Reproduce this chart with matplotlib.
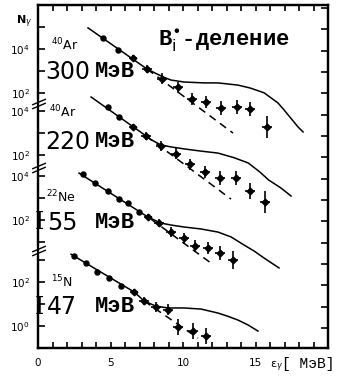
import numpy as np
import matplotlib.pyplot as plt

# stacked log axis: every panel is shifted by its own number of decades
off1, off2, off3, off4 = 9.6, 6.75, 3.8, 1.0

# 40Ar 300 MeV
e_dot1 = [4.48, 5.52]
n_dot1 = [4.49, 3.95]
e_cr1 = [6.55, 7.52, 8.55, 9.66, 10.62, 11.59, 12.62, 13.72, 14.62, 15.79]
n_cr1 = [3.58, 3.08, 2.63, 2.26, 1.72, 1.58, 1.31, 1.35, 1.26, 0.45]
dn_cr1 = [0.12, 0.2, 0.25, 0.25, 0.28, 0.28, 0.3, 0.3, 0.3, 0.5]
e_sol1 = [3.45, 7.52, 8.62, 9.17, 10.07, 11.45, 12.41, 13.79, 14.62, 15.59, 16.55, 16.97, 17.93, 18.28]
n_sol1 = [4.95, 3.08, 2.72, 2.58, 2.49, 2.45, 2.45, 2.35, 2.22, 2.0, 1.54, 1.22, 0.45, 0.22]
e_das1 = [7.52, 13.45]
n_das1 = [3.08, 0.17]

# 40Ar 220 MeV
e_dot2 = [4.83, 5.59]
n_dot2 = [4.20, 3.75]
e_cr2 = [6.55, 7.45, 8.48, 9.52, 10.48, 11.52, 12.55, 13.66, 14.62, 15.66]
n_cr2 = [3.30, 2.89, 2.43, 2.07, 1.61, 1.25, 0.98, 0.98, 0.39, -0.11]
dn_cr2 = [0.12, 0.2, 0.22, 0.25, 0.25, 0.28, 0.3, 0.3, 0.38, 0.5]
e_sol2 = [3.66, 7.45, 7.79, 8.48, 9.17, 10.07, 11.24, 12.41, 13.52, 14.5, 15.3, 15.9, 16.76, 17.45]
n_sol2 = [4.66, 2.89, 2.72, 2.48, 2.39, 2.30, 2.20, 2.11, 1.90, 1.66, 1.25, 0.89, 0.52, 0.16]
e_das2 = [7.45, 13.31]
n_das2 = [2.89, 0.02]

# 22Ne 155 MeV
e_dot3 = [3.10, 3.93, 4.83, 5.59, 6.21, 6.97]
n_dot3 = [4.11, 3.70, 3.34, 2.97, 2.79, 2.38]
e_cr3 = [7.59, 8.34, 9.17, 10.07, 10.83, 11.72, 12.55, 13.45]
n_cr3 = [2.15, 1.88, 1.47, 1.20, 0.84, 0.75, 0.52, 0.20]
dn_cr3 = [0.12, 0.2, 0.22, 0.25, 0.28, 0.28, 0.3, 0.4]
e_sol3 = [2.83, 7.59, 8.48, 9.17, 10.07, 11.24, 12.41, 13.31, 14.21, 14.9, 15.59, 16.62]
n_sol3 = [4.15, 2.15, 1.88, 1.79, 1.70, 1.61, 1.47, 1.25, 0.88, 0.61, 0.29, -0.16]
e_das3 = [7.79, 11.93]
n_das3 = [2.06, 0.06]

# 15N 147 MeV
e_dot4 = [2.48, 3.31, 4.07, 4.90, 5.72]
n_dot4 = [3.18, 2.86, 2.45, 2.18, 1.82]
e_cr4 = [6.62, 7.31, 8.14, 8.97, 9.66, 10.69, 11.59]
n_cr4 = [1.55, 1.14, 0.86, 0.73, -0.05, -0.23, -0.45]
dn_cr4 = [0.12, 0.2, 0.22, 0.25, 0.38, 0.38, 0.38]
e_sol4 = [2.28, 6.62, 7.0, 7.31, 8.14, 8.97, 10.07, 11.24, 12.41, 13.1, 13.79, 14.48, 15.17]
n_sol4 = [3.26, 1.55, 1.33, 1.14, 0.90, 0.82, 0.82, 0.77, 0.59, 0.44, 0.27, 0.05, -0.23]
e_das4 = [7.31, 11.03]
n_das4 = [1.14, -0.55]

projectile = ['$^{40}$Ar', '$^{40}$Ar', '$^{22}$Ne', '$^{15}$N']
energy_pre = ['', '', 'I', 'I']
energy = ['300', '220', '55', '47']

panels = [
    (off1, e_dot1, n_dot1, e_cr1, n_cr1, dn_cr1, e_sol1, n_sol1, e_das1, n_das1),
    (off2, e_dot2, n_dot2, e_cr2, n_cr2, dn_cr2, e_sol2, n_sol2, e_das2, n_das2),
    (off3, e_dot3, n_dot3, e_cr3, n_cr3, dn_cr3, e_sol3, n_sol3, e_das3, n_das3),
    (off4, e_dot4, n_dot4, e_cr4, n_cr4, dn_cr4, e_sol4, n_sol4, e_das4, n_das4),
]

fig = plt.figure(figsize=(3.47, 3.76), dpi=100)
ax = fig.add_axes([38/347, 1-348/376, 290/347, 343/376])

for off, ed, nd, ec, nc, dnc, es, ns, ea, na in panels:
    ax.plot(es, np.array(ns) + off, color='k', lw=1.1)
    ax.plot(ea, np.array(na) + off, color='k', lw=1.1, ls=(0, (5, 3.5)))
    ax.plot(ed, np.array(nd) + off, 'o', color='k', ms=3.6)
    xe = [0.25] + [0.35]*(len(ec)-1)
    ax.errorbar(ec, np.array(nc) + off, xerr=xe, yerr=dnc, fmt='D', ms=3.4,
                color='k', elinewidth=1.2, capsize=0)

ax.set_xlim(0, 20)
ax.set_ylim(0, 343/22)

# x ticks
ax.set_xticks([0, 5, 10, 15])
ax.set_xticklabels(['0', '5', '10', '15'], fontsize=7.5)
ax.set_xticks(np.arange(0, 21, 1), minor=True)
ax.tick_params(axis='x', which='both', direction='in', top=True, length=4, width=1.2, pad=7)

# left y ticks, decades of each panel
decades = [(off1, [2, 4], [3, 5]), (off2, [2, 4], [3]), (off3, [2, 4], [1, 3]), (off4, [0, 2], [1, 3])]
maj, lab, mnr = [], [], []
for off, lab_d, min_d in decades:
    for d in lab_d:
        maj.append(off + d)
        lab.append('10$^{%d}$' % d)
    for d in min_d:
        mnr.append(off + d)
ax.set_yticks(maj)
ax.set_yticklabels(lab, fontsize=7.5)
ax.set_yticks(mnr, minor=True)
ax.tick_params(axis='y', which='both', direction='in', right=False, length=5, width=1.2, pad=6)

# right side ticks
ax2 = ax.twinx()
ax2.set_ylim(ax.get_ylim())
ax2.set_yticks(np.arange(0.91, 15.5, 0.97))
ax2.set_yticklabels([])
ax2.tick_params(axis='y', direction='in', length=5, width=1.2)

for a in (ax, ax2):
    for s in a.spines.values():
        s.set_linewidth(1.6)

# axis break marks
for yb in [(348-104)/22, (348-168)/22, (348-251)/22]:
    ax.plot([0, 0], [yb - 0.12, yb + 0.12], color='white', lw=3, transform=ax.get_yaxis_transform(),
            clip_on=False, zorder=6)
    for dy in (-0.09, 0.09):
        ax.plot([-0.018, 0.025], [yb + dy - 0.12, yb + dy + 0.12], color='k', lw=1.0,
                transform=ax.get_yaxis_transform(), clip_on=False, zorder=7)

# panel labels
lab_y = [(348-72)/22, (348-142)/22, (348-223)/22, (348-307)/22]
iso_y = [(348-50)/22, (348-117)/22, (348-202)/22, (348-287)/22]
iso_x = [0.9, 0.76, 0.55, 0.9]
for i in range(4):
    if energy_pre[i]:
        ax.text(-0.2, lab_y[i], energy_pre[i], fontsize=17, family='DejaVu Serif',
                ha='left', va='center', clip_on=False)
        ax.text(0.62, lab_y[i], energy[i], fontsize=17, family='DejaVu Sans', ha='left', va='center')
    else:
        ax.text(0.5, lab_y[i], energy[i], fontsize=17, family='DejaVu Sans', ha='left', va='center')
    ax.text(3.95, lab_y[i], 'МэВ', fontsize=16, family='Liberation Mono', weight='bold',
            ha='left', va='center')
    ax.text(iso_x[i], iso_y[i], projectile[i], fontsize=9, ha='left', va='baseline')

ax.text(8.3, (348-46)/22, 'B$_{\\rm i}^{\\bullet}$-деление', fontsize=16, family='Liberation Mono',
        weight='bold', ha='left', va='baseline')

ax.text(-1.55, (348-24)/22, 'N$_\\gamma$', fontsize=8, weight='bold', ha='left', va='baseline')
ax.text(16.0, (348-368)/22, 'ε$_\\gamma$', fontsize=8, ha='left', va='baseline', clip_on=False)
ax.text(16.85, (348-368)/22, '[ МэВ]', fontsize=10.5, family='Liberation Mono', ha='left',
        va='baseline', clip_on=False)

fig.savefig('out.png', dpi=100)
